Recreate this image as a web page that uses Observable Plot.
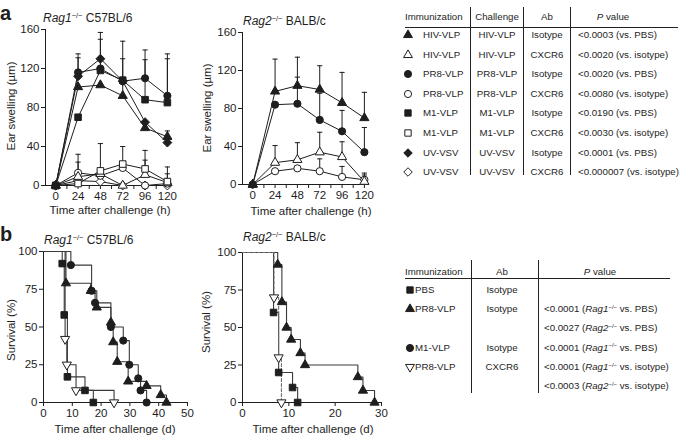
<!DOCTYPE html>
<html>
<head>
<meta charset="utf-8">
<script src="https://cdn.jsdelivr.net/npm/d3@7"></script>
<script src="https://cdn.jsdelivr.net/npm/@observablehq/plot@0.6"></script>
<style>
  body { margin: 0; background: #fff; font-family: "Liberation Sans", Arial, Helvetica, sans-serif; color: #1e1e1e; }
  #root { position: relative; width: 685px; height: 438px; overflow: hidden; }
  .abs { position: absolute; white-space: nowrap; line-height: 1; }
  .plot { position: absolute; }
  sup { font-size: 0.62em; vertical-align: 0; position: relative; top: -0.55em; }
  .ln { position: absolute; background: #222; }
</style>
</head>
<body>
<div id="root"></div>
<script>
// ---------------- DATA ----------------
// Panel a: ear swelling (µm) vs hours after challenge
const hours = [0, 24, 48, 72, 96, 120];
const hourTicks = [0, 12, 24, 36, 48, 60, 72, 84, 96, 108, 120];
const swellTicks = [0, 40, 80, 120, 160];

// Rag1-/- C57BL/6
const r1HivIso   = [0, 101, 103, 92, 59, 50];
const r1HivIsoSd = [0, 0, 0, 19, 0, 6];
const r1HivCx    = [0, 9, 12, 0, 11, 3];
const r1HivCxSd  = [0, 15, 0, 0, 15, 9];
const r1Pr8Iso   = [0, 116, 120, 107, 110, 92];
const r1Pr8IsoSd = [0, 19, 0, 41, 29, 43];
const r1Pr8Cx    = [0, 13, 10, 18, 0, 2];
const r1Pr8CxSd  = [0, 19, 0, 0, 0, 0];
const r1M1Iso    = [0, 70, 118, 108, 88, 85];
const r1M1IsoSd  = [0, 0, 32, 22, 41, 45];
const r1M1Cx     = [0, 2, 15, 22, 17, 4];
const r1M1CxSd   = [0, 0, 28, 18, 19, 15];
const r1UvIso    = [0, 112, 130, 107, 65, 44];
const r1UvIsoSd  = [0, 19, 27, 0, 0, 0];
const r1UvCx     = [0, 5, 4, 0, 0, 0];
const r1UvCxSd   = [0, 0, 0, 0, 0, 0];

// Rag2-/- BALB/c
const r2HivIso   = [0, 98, 104, 100, 86, 70];
const r2HivIsoSd = [0, 34, 30, 25, 32, 27];
const r2HivCx    = [0, 23, 26, 34, 29, 3];
const r2HivCxSd  = [0, 18, 18, 21, 16, 9];
const r2Pr8Iso   = [0, 84, 85, 68, 56, 34];
const r2Pr8IsoSd = [0, 0, 28, 28, 22, 26];
const r2Pr8Cx    = [0, 14, 17, 14, 8, 5];
const r2Pr8CxSd  = [0, 0, 0, 13, 11, 5];

// Panel b: survival (%) vs days after challenge
const survTicks = [0, 25, 50, 75, 100];
// Rag1-/- C57BL/6
const s1PbsDay = [0, 6.5, 7.2, 8.3, 14.4, 17.3];
const s1PbsPct = [100, 92, 58, 17, 8, 0];
const s1Pr8Day = [0, 7.8, 16.4, 18.5, 23.4, 24.2, 25.6, 29.4, 35.8, 40.7, 42.7];
const s1Pr8Pct = [100, 79, 74, 63, 53, 40, 27, 14, 11, 5, 0];
const s1M1Day  = [0, 9.5, 16.7, 17.9, 23.4, 27.7, 29.8, 32.9, 33.7, 35.8];
const s1M1Pct  = [100, 91, 74, 66, 50, 41, 25, 16, 8, 0];
const s1CxDay  = [0, 7.5, 8.1, 11.3, 24.5];
const s1CxPct  = [100, 42, 25, 8, 0];
// Rag2-/- BALB/c
const s2PbsDay = [0, 6.7, 7.8, 10.8, 11.9];
const s2PbsPct = [100, 60, 20, 10, 0];
const s2Pr8Day = [0, 7.6, 8.5, 9.5, 10.5, 12.5, 13.5, 24.9, 26.0, 28.5];
const s2Pr8Pct = [100, 92, 67, 50, 42, 33, 25, 17, 8, 0];
const s2CxDay  = [0, 6.8, 7.8, 8.4];
const s2CxPct  = [100, 70, 30, 0];

// Table a
const tabAHead = ["Immunization", "Challenge", "Ab", "<i>P</i> value"];
const tabAImm  = ["HIV-VLP", "HIV-VLP", "PR8-VLP", "PR8-VLP", "M1-VLP", "M1-VLP", "UV-VSV", "UV-VSV"];
const tabAChal = ["HIV-VLP", "HIV-VLP", "PR8-VLP", "PR8-VLP", "M1-VLP", "M1-VLP", "UV-VSV", "UV-VSV"];
const tabAAb   = ["Isotype", "CXCR6", "Isotype", "CXCR6", "Isotype", "CXCR6", "Isotype", "CXCR6"];
const tabAP    = ["<0.0003 (vs. PBS)", "<0.0020 (vs. isotype)", "<0.0020 (vs. PBS)", "<0.0080 (vs. isotype)",
                  "<0.0190 (vs. PBS)", "<0.0030 (vs. isotype)", "<0.0001 (vs. PBS)", "<0.000007 (vs. isotype)"];
const tabASym  = ["triangle", "triangle", "circle", "circle", "square", "square", "diamond2", "diamond2"];
const tabAFill = [true, false, true, false, true, false, true, false];

// Table b
const tabBHead = ["Immunization", "Ab", "<i>P</i> value"];
const tabBImm  = ["PBS", "PR8-VLP", "", "M1-VLP", "PR8-VLP", ""];
const tabBAb   = ["Isotype", "Isotype", "", "Isotype", "CXCR6", ""];
const tabBP    = ["", "<0.0001 (<i>Rag1</i><sup>−/−</sup> vs. PBS)", "<0.0027 (<i>Rag2</i><sup>−/−</sup> vs. PBS)",
                  "<0.0001 (<i>Rag1</i><sup>−/−</sup> vs. PBS)", "<0.0001 (<i>Rag1</i><sup>−/−</sup> vs. isotype)",
                  "<0.0003 (<i>Rag2</i><sup>−/−</sup> vs. isotype)"];
const tabBSym  = ["square", "triangle", "", "circle", "triangleDown", ""];
const tabBFill = [true, true, false, true, false, false];

// ---------------- HELPERS ----------------
const root = document.getElementById("root");
const FONT = '"Liberation Sans", Arial, Helvetica, sans-serif';
const INK = "#1e1e1e";
const rSym = { triangle: 3.4, circle: 3.6, square: 3.7, diamond2: 4.0 };

const cap = { draw(ctx, size) { const w = Math.sqrt(size / Math.PI); ctx.moveTo(-w, 0); ctx.lineTo(w, 0); } };

function addText(html, x, y, { anchor = "start", size = 11.5, weight = "normal" } = {}) {
  const d = document.createElement("div");
  d.className = "abs";
  d.innerHTML = html;
  d.style.left = x + "px";
  d.style.top = y + "px";
  d.style.fontSize = size + "px";
  d.style.fontWeight = weight;
  const tx = anchor === "middle" ? "-50%" : anchor === "end" ? "-100%" : "0";
  d.style.transform = `translate(${tx},-50%)`;
  root.appendChild(d);
  return d;
}
function addVText(html, cx, cy, size = 11.5) {
  const d = document.createElement("div");
  d.className = "abs";
  d.innerHTML = html;
  d.style.left = cx + "px";
  d.style.top = cy + "px";
  d.style.fontSize = size + "px";
  d.style.transform = "translate(-50%,-50%) rotate(-90deg)";
  root.appendChild(d);
}
function addLine(x1, y1, x2, y2) {
  const d = document.createElement("div");
  d.className = "ln";
  d.style.left = Math.min(x1, x2) + "px";
  d.style.top = Math.min(y1, y2) + "px";
  d.style.width = Math.max(1, Math.abs(x2 - x1)) + "px";
  d.style.height = Math.max(1, Math.abs(y2 - y1)) + "px";
  root.appendChild(d);
}
const d3Sym = { triangle: d3.symbolTriangle, triangleDown: d3.symbolTriangle, circle: d3.symbolCircle, square: d3.symbolSquare, diamond2: d3.symbolDiamond2 };
const d3Size = { triangle: 34, triangleDown: 34, circle: 40, square: 40, diamond2: 46 };
function addSymbol(type, filled, cx, cy) {
  const svg = d3.create("svg").attr("width", 14).attr("height", 14)
    .style("position", "absolute").style("left", (cx - 7) + "px").style("top", (cy - 7) + "px").style("overflow", "visible");
  svg.append("path").attr("d", d3.symbol(d3Sym[type], d3Size[type])())
    .attr("transform", `translate(7,7) rotate(${type === "triangleDown" ? 180 : 0})`)
    .attr("fill", filled ? INK : "#fff").attr("stroke", INK).attr("stroke-width", 1);
  root.appendChild(svg.node());
}
function place(node, left, top) {
  node.classList.add("plot");
  node.style.left = left + "px";
  node.style.top = top + "px";
  root.appendChild(node);
}

// ---------------- EAR SWELLING PLOTS ----------------
function earPlot(series, mt, mb) {
  const xDom = [-11, 125.5];
  const rows = s => hours.map((h, i) => ({ h, v: s.v[i], e: s.e[i] }));
  const marks = [
    Plot.ruleX([xDom[0]], { stroke: INK, strokeWidth: 1 }),
    Plot.ruleY([0], { stroke: INK, strokeWidth: 1 }),
    Plot.axisY({ ticks: swellTicks, tickSize: 4, tickPadding: 2, label: null }),
    Plot.axisX({ ticks: hourTicks, tickSize: 4, tickPadding: 2, label: null, tickFormat: d => (d % 24 === 0 ? String(d) : "") })
  ];
  for (const s of series) {
    const er = rows(s).filter(d => d.e > 0);
    marks.push(Plot.ruleX(er, { x: "h", y1: "v", y2: d => d.v + d.e, stroke: INK, strokeWidth: 1 }));
    marks.push(Plot.dot(er, { x: "h", y: d => d.v + d.e, symbol: cap, r: 2.6, stroke: INK, strokeWidth: 1 }));
  }
  for (const s of series) marks.push(Plot.line(rows(s), { x: "h", y: "v", stroke: INK, strokeWidth: 1 }));
  for (const s of series) marks.push(Plot.dot(rows(s), { x: "h", y: "v", symbol: s.sym, r: rSym[s.sym], fill: s.filled ? INK : "#fff", stroke: INK, strokeWidth: 1 }));
  return Plot.plot({
    width: 178, height: 218, marginLeft: 45, marginRight: 6, marginTop: mt, marginBottom: mb,
    x: { domain: xDom }, y: { domain: [0, 160] },
    style: { fontFamily: FONT, fontSize: "11.5px", color: INK, background: "transparent" },
    marks
  });
}

const rag1Series = [
  { v: r1UvCx, e: r1UvCxSd, sym: "diamond2", filled: false },
  { v: r1Pr8Cx, e: r1Pr8CxSd, sym: "circle", filled: false },
  { v: r1HivCx, e: r1HivCxSd, sym: "triangle", filled: false },
  { v: r1M1Cx, e: r1M1CxSd, sym: "square", filled: false },
  { v: r1HivIso, e: r1HivIsoSd, sym: "triangle", filled: true },
  { v: r1UvIso, e: r1UvIsoSd, sym: "diamond2", filled: true },
  { v: r1Pr8Iso, e: r1Pr8IsoSd, sym: "circle", filled: true },
  { v: r1M1Iso, e: r1M1IsoSd, sym: "square", filled: true }
];
const rag2Series = [
  { v: r2Pr8Cx, e: r2Pr8CxSd, sym: "circle", filled: false },
  { v: r2HivCx, e: r2HivCxSd, sym: "triangle", filled: false },
  { v: r2Pr8Iso, e: r2Pr8IsoSd, sym: "circle", filled: true },
  { v: r2HivIso, e: r2HivIsoSd, sym: "triangle", filled: true }
];
place(earPlot(rag1Series, 29, 33), 0, 0);
place(earPlot(rag2Series, 32, 34), 197, 0);

// ---------------- SURVIVAL PLOTS ----------------
function survPlot(series, xmax, xticks, width, mt, mb) {
  const marks = [
    Plot.ruleX([0], { stroke: INK, strokeWidth: 1 }),
    Plot.ruleY([0], { stroke: INK, strokeWidth: 1 }),
    Plot.axisY({ ticks: survTicks, tickSize: 4, tickPadding: 2, label: null }),
    Plot.axisX({ ticks: xticks, tickSize: 4, tickPadding: 2, label: null })
  ];
  const rows = s => s.d.map((d, i) => ({ d, p: s.p[i] }));
  for (const s of series)
    marks.push(Plot.line(rows(s), { x: "d", y: "p", curve: "step-after", stroke: s.dash ? "#6e6e6e" : "#3a3a3a", strokeWidth: 1.1, strokeDasharray: s.dash ? "3,2" : null }));
  for (const s of series)
    marks.push(Plot.dot(rows(s).slice(1), { x: "d", y: "p", symbol: s.sym === "triangleDown" ? "triangle" : s.sym, rotate: s.sym === "triangleDown" ? 180 : 0, r: rSym[s.sym === "triangleDown" ? "triangle" : s.sym], fill: s.filled ? INK : "#fff", stroke: INK, strokeWidth: 1 }));
  return Plot.plot({
    width, height: 210, marginLeft: 43, marginRight: 8, marginTop: mt, marginBottom: mb,
    x: { domain: [0, xmax] }, y: { domain: [0, 100] },
    style: { fontFamily: FONT, fontSize: "11.5px", color: INK, background: "transparent" },
    marks
  });
}
const surv1 = [
  { d: s1Pr8Day, p: s1Pr8Pct, sym: "triangle", filled: true },
  { d: s1M1Day, p: s1M1Pct, sym: "circle", filled: true },
  { d: s1CxDay, p: s1CxPct, sym: "triangleDown", filled: false },
  { d: s1PbsDay, p: s1PbsPct, sym: "square", filled: true }
];
const surv2 = [
  { d: s2Pr8Day, p: s2Pr8Pct, sym: "triangle", filled: true },
  { d: s2PbsDay, p: s2PbsPct, sym: "square", filled: true },
  { d: s2CxDay, p: s2CxPct, sym: "triangleDown", filled: false, dash: true }
];
place(survPlot(surv1, 50, [0, 10, 20, 30, 40, 50], 195, 23, 36), 0, 228);
place(survPlot(surv2, 30, [0, 10, 20, 30], 190, 24, 36), 199, 228);

// ---------------- PANEL TEXT ----------------
addText("a", 0, 13, { size: 20, weight: "bold" });
addText("b", 0, 234, { size: 20, weight: "bold" });
addText("<i>Rag1</i><sup>−/−</sup> C57BL/6", 43, 18, { size: 12 });
addText("<i>Rag2</i><sup>−/−</sup> BALB/c", 243, 21, { size: 12 });
addText("<i>Rag1</i><sup>−/−</sup> C57BL/6", 44, 240, { size: 12 });
addText("<i>Rag2</i><sup>−/−</sup> BALB/c", 243, 237, { size: 12 });
addText("Time after challenge (h)", 110, 211, { anchor: "middle" });
addText("Time after challenge (h)", 311, 212, { anchor: "middle" });
addText("Time after challenge (d)", 115, 430, { anchor: "middle" });
addText("Time after challenge (d)", 313, 430, { anchor: "middle" });
addVText("Ear swelling (µm)", 12, 106);
addVText("Ear swelling (µm)", 208, 108);
addVText("Survival (%)", 12, 330);
addVText("Survival (%)", 207, 322);

// ---------------- TABLE a ----------------
const TA = { size: 9.7, head: 17, rowY: i => 35 + i * 19.6 };
addText(tabAHead[0], 405, TA.head, { size: TA.size });
addText(tabAHead[1], 497, TA.head, { size: TA.size, anchor: "middle" });
addText(tabAHead[2], 547, TA.head, { size: TA.size, anchor: "middle" });
addText(tabAHead[3], 613, TA.head, { size: TA.size, anchor: "middle" });
addLine(405, 27, 678, 27);
addLine(470, 7, 470, 175);
addLine(523, 7, 523, 175);
addLine(570, 7, 570, 175);
tabAImm.forEach((t, i) => {
  const y = TA.rowY(i);
  addSymbol(tabASym[i], tabAFill[i], 408, y);
  addText(t, 423, y, { size: TA.size });
  addText(tabAChal[i], 497, y, { size: TA.size, anchor: "middle" });
  addText(tabAAb[i], 547, y, { size: TA.size, anchor: "middle" });
  addText(tabAP[i].replace("<", "&lt;"), 578, y, { size: TA.size });
});

// ---------------- TABLE b ----------------
const TB = { size: 9.7, head: 272, rowY: i => 290 + i * 19.2 };
addText(tabBHead[0], 405, TB.head, { size: TB.size });
addText(tabBHead[1], 502, TB.head, { size: TB.size, anchor: "middle" });
addText(tabBHead[2], 600, TB.head, { size: TB.size, anchor: "middle" });
addLine(405, 278, 670, 278);
addLine(471, 260, 471, 393);
addLine(538, 260, 538, 393);
tabBImm.forEach((t, i) => {
  const y = TB.rowY(i);
  if (tabBSym[i]) addSymbol(tabBSym[i], tabBFill[i], 409.5, y);
  if (t) addText(t, 415, y, { size: TB.size });
  if (tabBAb[i]) addText(tabBAb[i], 502, y, { size: TB.size, anchor: "middle" });
  if (tabBP[i]) addText(tabBP[i].replace("<0", "&lt;0"), 544, y, { size: TB.size });
});
</script>
</body>
</html>
